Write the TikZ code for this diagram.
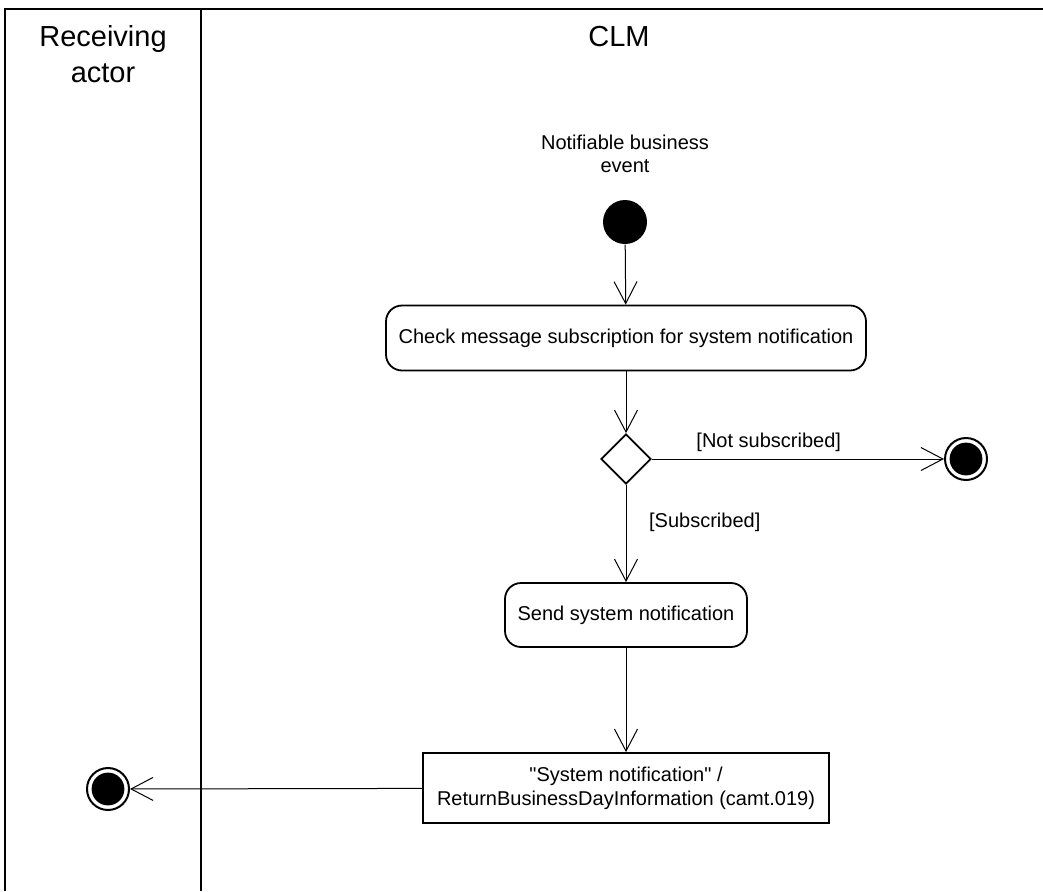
\documentclass[tikz,border=0pt]{standalone}
\usepackage{fontspec}
\setmainfont{Liberation Sans}
\usetikzlibrary{arrows.meta,positioning,shapes.geometric}

\begin{document}
\begin{tikzpicture}[
    x=0.5pt, y=-0.5pt,
    font=\fontsize{10}{11.5}\selectfont,
    >={Straight Barb[length=11pt,width=11.5pt]},
    line width=0.5pt,
    lane/.style={line width=1pt},
    header/.style={font=\fontsize{14.5}{18}\selectfont, align=center, inner sep=0pt},
    action/.style={draw, line width=0.9pt, rounded corners=8pt, minimum width=240pt, minimum height=32.5pt, align=center},
    msgobj/.style={draw, line width=0.9pt, minimum width=203pt, minimum height=35pt, align=center, font=\fontsize{10}{12}\selectfont},
    decision/.style={draw, diamond, aspect=1, line width=0.9pt, inner sep=0pt, minimum width=25pt, minimum height=25pt},
    initial/.style={circle, fill=black, inner sep=0pt, minimum size=22pt},
    final/.style={circle, draw, line width=1pt, inner sep=0pt, minimum size=21pt,
        path picture={\fill (path picture bounding box.center) circle (8.2pt);}}
]
\useasboundingbox (0,0) rectangle (1043,891);

% swimlanes
\draw[lane] (1043,9) -- (5,9) -- (5,891);
\draw[lane] (201,9) -- (201,891);
\node[header] (lanerecv) at (103,54) {Receiving\\actor};
\node[header] (laneclm) at (619,37) {CLM};

% flow
\node[align=center, inner sep=0pt] (eventlbl) at (625,154) {Notifiable business\\event};
\node[initial] (start) at (625,222) {};
\node[action] (check) at (626,338) {Check message subscription for system notification};
\node[decision] (subscr) at (626,459) {};
\node[final] (endnot) at (966,459) {};
\node[action, minimum width=121pt, minimum height=32pt] (send) at (626,615) {Send system notification};
\node[msgobj] (notif) at (626,788) {\textquotedbl System notification\textquotedbl\ /\\ReturnBusinessDayInformation (camt.019)};
\node[final] (endrecv) at (108,789) {};

\draw[->] (start) -- (check);
\draw[->] (check) -- (subscr);
\draw[->] (subscr) -- node[above, pos=0.4] {[Not subscribed]} (endnot);
\draw[->] (subscr) -- node[right=8pt, pos=0.38] {[Subscribed]} (send);
\draw[->] (send) -- (notif);
\draw[->] (notif) -- (endrecv);
\end{tikzpicture}
\end{document}
